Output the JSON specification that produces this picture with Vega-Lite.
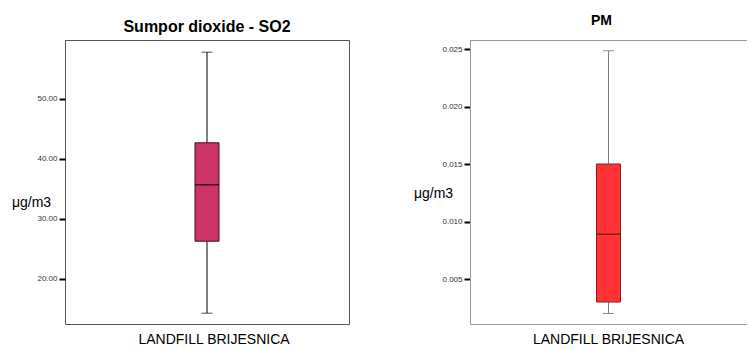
{
  "$schema": "https://vega.github.io/schema/vega-lite/v6.json",
  "padding": {"left": 10, "top": 14, "right": 0, "bottom": 0},
  "background": "#ffffff",
  "config": {"font": "Liberation Sans", "view": {"stroke": null}},
  "datasets": {
    "so2": [{"site": "LANDFILL BRIJESNICA", "min": 14.3, "q1": 26.3, "median": 35.7, "q3": 42.7, "max": 57.8}],
    "pm": [{"site": "LANDFILL BRIJESNICA", "min": 0.002, "q1": 0.003, "median": 0.0089, "q3": 0.015, "max": 0.02485}]
  },
  "spacing": 63,
  "hconcat": [
    {
      "title": {"text": "Sumpor dioxide - SO2", "fontSize": 16, "fontWeight": "bold", "baseline": "top", "offset": 5, "color": "#000"},
      "width": 284,
      "height": 284,
      "data": {"name": "so2"},
      "view": {"stroke": "#555555", "strokeWidth": 1},
      "encoding": {
        "x": {"field": "site", "type": "nominal", "scale": {"paddingInner": 0, "paddingOuter": 0},
          "axis": {"title": null, "ticks": false, "domain": false, "labelFontSize": 14, "labelColor": "#000", "labelPadding": 8, "labelAngle": 0, "labelOffset": 7}}
      },
      "layer": [
        {"mark": {"type": "rule", "color": "#000", "strokeWidth": 1},
          "encoding": {
            "y": {"field": "min", "type": "quantitative", "scale": {"domain": [12.5, 59.83], "nice": false, "zero": false},
              "axis": {"title": "μg/m3", "values": [20, 30, 40, 50], "format": ".2f", "labelFontSize": 8, "labelColor": "#333", "labelPadding": 2,
                "tickColor": "#000", "tickWidth": 2, "tickSize": 6, "domain": false, "grid": false,
                "titleAngle": 0, "titleFontSize": 14, "titleFontWeight": "normal", "titleColor": "#000",
                "titleX": -34, "titleY": 162, "titleAlign": "center", "titleBaseline": "middle"}},
            "y2": {"field": "max"}
          }},
        {"mark": {"type": "tick", "color": "#000", "size": 11, "thickness": 1},
          "encoding": {"y": {"field": "max", "type": "quantitative"}}},
        {"mark": {"type": "tick", "color": "#000", "size": 11, "thickness": 1},
          "encoding": {"y": {"field": "min", "type": "quantitative"}}},
        {"mark": {"type": "bar", "size": 24, "fill": "#CC3366", "stroke": "#3d1020", "strokeWidth": 1},
          "encoding": {"y": {"field": "q1", "type": "quantitative"}, "y2": {"field": "q3"}}},
        {"mark": {"type": "tick", "color": "#000", "size": 24, "thickness": 1.5},
          "encoding": {"y": {"field": "median", "type": "quantitative"}}}
      ]
    },
    {
      "title": {"text": "PM", "fontSize": 14, "fontWeight": "bold", "baseline": "top", "offset": 12, "dx": -7, "color": "#000"},
      "width": 277,
      "height": 284,
      "data": {"name": "pm"},
      "view": {"stroke": null},
      "resolve": {"axis": {"x": "independent"}},
      "layer": [
        {
          "encoding": {
            "x": {"field": "site", "type": "nominal", "scale": {"paddingInner": 0, "paddingOuter": 0},
              "axis": {"title": null, "ticks": false, "domain": true, "domainColor": "#999999", "labelFontSize": 14, "labelColor": "#000", "labelPadding": 8, "labelAngle": 0}}
          },
          "layer": [
            {"mark": {"type": "rule", "color": "#808080", "strokeWidth": 1},
              "encoding": {
                "y": {"field": "min", "type": "quantitative", "scale": {"domain": [0.001087, 0.025783], "nice": false, "zero": false},
                  "axis": {"title": "μg/m3", "values": [0.005, 0.01, 0.015, 0.02, 0.025], "format": ".3f", "labelFontSize": 8, "labelColor": "#333", "labelPadding": 2,
                    "tickColor": "#000", "tickWidth": 2, "tickSize": 6, "domain": true, "domainColor": "#999999", "grid": false,
                    "titleAngle": 0, "titleFontSize": 14, "titleFontWeight": "normal", "titleColor": "#000",
                    "titleX": -37, "titleY": 153, "titleAlign": "center", "titleBaseline": "middle"}},
                "y2": {"field": "max"}
              }},
            {"mark": {"type": "tick", "color": "#606060", "size": 11, "thickness": 1},
              "encoding": {"y": {"field": "max", "type": "quantitative"}}},
            {"mark": {"type": "tick", "color": "#606060", "size": 11, "thickness": 1},
              "encoding": {"y": {"field": "min", "type": "quantitative"}}},
            {"mark": {"type": "bar", "size": 24, "fill": "#FF3333", "stroke": "#8a1c1c", "strokeWidth": 1},
              "encoding": {"y": {"field": "q1", "type": "quantitative"}, "y2": {"field": "q3"}}},
            {"mark": {"type": "tick", "color": "#3a0000", "size": 24, "thickness": 1.2},
              "encoding": {"y": {"field": "median", "type": "quantitative"}}}
          ]
        },
        {
          "mark": {"type": "tick", "opacity": 0},
          "encoding": {
            "x": {"field": "site", "type": "nominal",
              "axis": {"orient": "top", "title": null, "labels": false, "ticks": false, "domain": true, "domainColor": "#999999"}},
            "y": {"field": "max", "type": "quantitative"}
          }
        }
      ]
    }
  ]
}
